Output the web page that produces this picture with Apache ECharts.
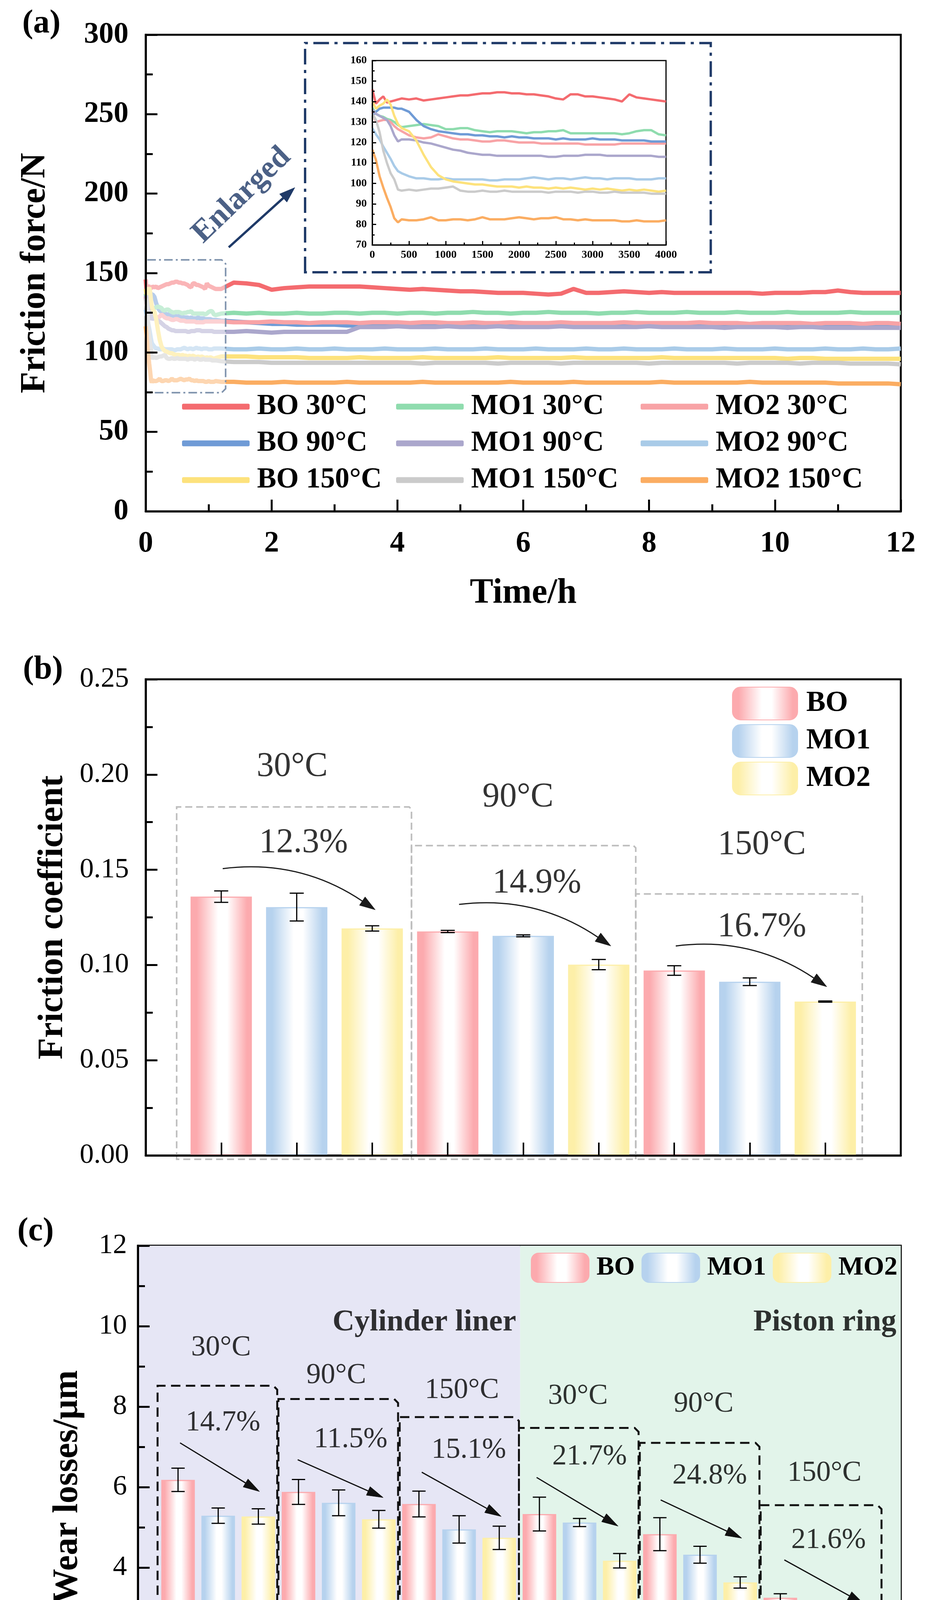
<!DOCTYPE html>
<html>
<head>
<meta charset="utf-8">
<script src="https://cdn.jsdelivr.net/npm/echarts@6/dist/echarts.min.js"></script>
<style>
html, body { margin: 0; padding: 0; background: #fff; }
#chart { width: 2368px; height: 4490px; }
</style>
</head>
<body>
<div id="chart"></div>
<script>
var FONT = 'Liberation Serif';
var NAVY = '#1f3a68';

// ---------- (a) friction force ----------
var lineNames = ['BO 30°C', 'MO1 30°C', 'MO2 30°C', 'BO 90°C', 'MO1 90°C', 'MO2 90°C', 'BO 150°C', 'MO1 150°C', 'MO2 150°C'];
var lineColors = ['#f46b6f', '#8fdcae', '#f8a3a6', '#6f9bd6', '#aba7cc', '#a9cbe8', '#fde27c', '#cbcbcb', '#fbad62'];

// inset: time in s
var insetTime = [0, 50, 100, 150, 200, 250, 300, 350, 400,
  500, 600, 700, 800, 900, 1000, 1100, 1200, 1300, 1400,
  1500, 1600, 1700, 1800, 1900, 2000, 2100, 2200, 2300, 2400,
  2500, 2600, 2700, 2800, 2900, 3000, 3100, 3200, 3300, 3400,
  3500, 3600, 3700, 3800, 3900, 4000];
var insetBO30 = [146, 139, 141, 142.5, 139.5, 140, 140.5, 141, 141.5,
  141, 141.5, 140.5, 141, 141.5, 142, 142.5, 143, 143, 143.5,
  144, 144, 144.5, 144.5, 144, 144, 143.5, 143.5, 143, 142.5,
  141.5, 141, 143.5, 143.5, 142.5, 142.5, 142, 141.5, 141, 140,
  143.5, 142, 141.5, 141, 140.5, 140];
var insetMO130 = [137, 134, 133, 132.5, 131.5, 131, 130, 128.5, 127.5,
  128, 128.5, 129, 128.5, 128, 126.5, 126.5, 127, 127, 126,
  125.5, 125, 125.5, 125.5, 125.5, 125, 124.5, 125, 125, 125.5,
  125.5, 126, 124.5, 124.5, 124.5, 124.5, 124.5, 124.5, 124.5, 124,
  124.5, 125.5, 126, 126, 124, 123.5];
var insetMO230 = [135, 130, 130.5, 131, 131, 130, 128, 126.5, 125.5,
  123.5, 122.5, 122, 122.5, 124, 123, 122, 121.5, 121.5, 121,
  120.5, 120.5, 121, 121, 120.5, 120, 120, 120, 119.5, 119.5,
  119.5, 119.5, 119.5, 119.5, 119, 119, 119, 119, 119, 119.5,
  119.5, 119.5, 119.5, 119.5, 119.5, 119.5];
var insetBO90 = [133, 135, 136.5, 137, 137, 137, 137, 136.5, 136.5,
  135, 131, 128, 126.5, 125.5, 125, 124.5, 124, 124, 123.5,
  123.5, 123, 123, 122.5, 123, 122.5, 122.5, 122, 122, 122,
  121.5, 122, 121.5, 121.5, 121.5, 122, 121.5, 121.5, 121.5, 121,
  121, 121, 121, 120.5, 120.5, 120.5];
var insetMO190 = [136, 134, 133, 132, 131, 128, 123.5, 120.5, 121.5,
  121.5, 121, 120, 119.5, 118.5, 117.5, 116.5, 116, 115, 114.5,
  114, 114, 113.5, 113.5, 113.5, 113.5, 113.5, 113.5, 113.5, 113,
  113, 113.5, 113.5, 113.5, 114, 114, 114, 113.5, 113.5, 113.5,
  113.5, 113.5, 113.5, 113.5, 113, 113];
var insetMO290 = [127, 124, 121.5, 118, 115, 112, 108.5, 106, 105,
  103.5, 102.5, 102.5, 102, 102, 102.5, 102, 102, 102, 102,
  102, 101.5, 101.5, 102, 102, 102, 102.5, 103, 102.5, 102,
  102.5, 102.5, 102, 102.5, 103, 102.5, 102.5, 102, 102.5, 102.5,
  102.5, 102, 102, 102, 102.5, 102.5];
var insetBO150 = [140, 136.5, 138, 139, 141, 138.5, 133, 129, 127,
  125.5, 121, 114, 108, 104, 102, 101, 100.5, 100, 99.5,
  99.5, 99, 98.5, 98.5, 98.5, 98, 98.5, 98, 98, 97.5,
  98, 97.5, 98, 97.5, 97, 97.5, 97, 97.5, 97, 96.5,
  97, 96.5, 97, 96.5, 96, 96.5];
var insetMO1150 = [134, 131, 125, 116, 110, 105, 102, 97, 96.5,
  97, 96.5, 97, 97.5, 97.5, 98, 98.5, 96.5, 96, 96,
  96.5, 96, 96, 96.5, 96, 96, 96, 96, 96, 95.5,
  96, 96, 96, 95.5, 96, 96, 95.5, 95.5, 96, 95.5,
  95.5, 95.5, 95.5, 95, 95, 95];
var insetMO2150 = [116.5, 111.5, 103.5, 98, 93, 88.5, 83, 81, 82.5,
  82, 82, 82.5, 83.5, 82, 82, 82.5, 82.5, 82, 82.5,
  83.5, 82.5, 82.5, 82.5, 83, 83.5, 83, 82.5, 83, 83,
  83.5, 82.5, 82.5, 82, 82.5, 82, 82, 82, 82, 81.5,
  81.5, 82, 81.5, 81.5, 81.5, 82];

// main plot after the inset window: time in h
var longTime = [1.2, 1.4, 1.6, 1.8, 2, 2.2, 2.4, 2.6, 2.8, 3,
  3.2, 3.4, 3.6, 3.8, 4, 4.2, 4.4, 4.6, 4.8, 5,
  5.2, 5.4, 5.6, 5.8, 6, 6.2, 6.4, 6.6, 6.8, 7,
  7.2, 7.4, 7.6, 7.8, 8, 8.2, 8.4, 8.6, 8.8, 9,
  9.2, 9.4, 9.6, 9.8, 10, 10.2, 10.4, 10.6, 10.8, 11,
  11.2, 11.4, 11.6, 11.8, 12];
var longBO30 = [140, 144, 143.5, 142.5, 139.5, 140.5, 141, 141.5, 141.5, 141.5,
  141.5, 141.5, 141, 140.5, 140, 139.5, 140, 139.5, 139, 138.5,
  138.5, 138, 137.5, 137.5, 137.5, 137, 136.5, 137, 140, 137.5,
  137.5, 138, 138.5, 138, 137.5, 138, 137.5, 137.5, 137.5, 137.5,
  137.5, 137.5, 137.5, 137, 137.5, 137.5, 137.5, 138, 138, 139,
  138, 137.5, 137.5, 137.5, 137.5];
var longMO130 = [124.5, 125, 124.5, 125, 124.5, 124.5, 125, 124.5, 124.5, 125,
  125, 124.5, 125, 125, 124.5, 125, 125, 124.5, 125, 125,
  125.5, 125, 125, 124.5, 125, 125, 125.5, 125, 125, 125,
  124.5, 125, 125, 125.5, 125, 125, 125, 125.5, 125, 125,
  125, 125.5, 125, 125, 125, 125.5, 125, 125, 125, 125,
  125.5, 125, 125, 125, 125];
var longMO230 = [119.5, 119, 119, 119, 119.5, 119, 119, 118.5, 119, 119,
  119, 118.5, 119, 119, 119, 118.5, 119, 119, 118.5, 118.5,
  119, 118.5, 118.5, 119, 118.5, 118.5, 118.5, 119, 118.5, 118.5,
  118.5, 118.5, 119, 118.5, 118.5, 118.5, 118.5, 118.5, 119, 118.5,
  118.5, 118.5, 118, 118.5, 118.5, 118.5, 118.5, 118, 118.5, 118.5,
  118.5, 118, 118.5, 118.5, 118];
var longBO90 = [120, 119.5, 119, 118.5, 118, 118, 117.5, 117.5, 117.5, 117.5,
  117, 117, 117, 117, 117, 117, 117, 117, 117, 117,
  117, 117, 117, 116.5, 117, 117, 117, 117, 117, 116.5,
  117, 117, 117, 117, 116.5, 117, 117, 117, 117, 117,
  116.5, 117, 117, 117, 117, 116.5, 117, 117, 117, 117,
  116.5, 117, 117, 116.5, 116.5];
var longMO190 = [113, 113, 113.5, 113, 112.5, 113, 113, 113, 113, 113,
  113, 116, 116, 116, 116.5, 116, 116, 116, 116.5, 116,
  116, 116, 116.5, 116, 116, 116, 116, 116.5, 116, 116,
  116, 116, 116, 116, 116.5, 116, 116, 116, 116, 116,
  115.5, 116, 116, 116, 116, 115.5, 116, 116, 115.5, 115.5,
  115.5, 115.5, 115.5, 115.5, 115.5];
var longMO290 = [102.5, 102, 102, 102.5, 102, 102, 102.5, 102, 102, 102.5,
  102, 102, 102, 102.5, 102, 102, 102, 102.5, 102, 102,
  102, 102.5, 102, 102, 102, 102.5, 102, 102, 102, 102.5,
  102, 102, 102.5, 102, 102, 102, 102.5, 102, 102, 102,
  102.5, 102, 102, 102, 102.5, 102, 102, 102, 102.5, 102,
  102, 102.5, 102, 102, 102.5];
var longBO150 = [97.5, 97.5, 97.5, 97, 97, 97, 97, 96.5, 96.5, 96.5,
  96.5, 97, 96.5, 96.5, 96.5, 96.5, 97, 96.5, 96.5, 96.5,
  96.5, 96.5, 97, 96.5, 96.5, 96.5, 96.5, 96.5, 97, 96.5,
  96.5, 96.5, 96.5, 96.5, 96.5, 97, 96.5, 96.5, 96.5, 96.5,
  96.5, 96.5, 96.5, 96.5, 96.5, 96, 96.5, 96.5, 96, 96,
  96, 96, 96, 96, 96];
var longMO1150 = [94.5, 94, 94, 94, 93.5, 93.5, 93.5, 93.5, 93.5, 93.5,
  93.5, 93.5, 93.5, 93.5, 93.5, 93.5, 93, 93.5, 93.5, 93.5,
  93.5, 93.5, 93, 93.5, 93.5, 93.5, 93.5, 93, 93.5, 93.5,
  93.5, 93.5, 93.5, 93.5, 93, 93.5, 93.5, 93.5, 93.5, 93.5,
  93.5, 93, 93.5, 93.5, 93.5, 93.5, 93, 93.5, 93.5, 93.5,
  93, 93, 93, 93, 92.5];
var longMO2150 = [81.5, 81.5, 81, 81, 81, 81.5, 81, 81, 81, 81,
  81.5, 81, 81, 81, 81, 81, 81.5, 81, 81, 81,
  81, 81, 81, 81.5, 81, 81, 81, 81, 81.5, 81,
  81, 81, 81, 81, 81, 81.5, 81, 81, 81, 81,
  81, 81, 81.5, 81, 81, 81, 81, 81, 81, 80.5,
  80.5, 80.5, 80.5, 80.5, 80];

var insetValues = [insetBO30, insetMO130, insetMO230, insetBO90, insetMO190, insetMO290, insetBO150, insetMO1150, insetMO2150];
var longValues = [longBO30, longMO130, longMO230, longBO90, longMO190, longMO290, longBO150, longMO1150, longMO2150];

// enlarged window [x1, x2, top, bottom] and inset frame, in (a) data units
var zoomBox = [0, 1.27, 158.3, 74.7];
var insetFrame = [2.533, 8.98, 294.8, 150.5];
var enlargedFrom = [[1.32, 166.2]], enlargedTo = [[2.37, 203.8]], enlargedAt = [1.527, 198.9];

// ---------- (b) friction coefficient ----------
var coefPosBO = [1, 4, 7], coefPosMO1 = [2, 5, 8], coefPosMO2 = [3, 6, 9];
var coefBO = [0.1359, 0.1176, 0.0971];
var coefMO1 = [0.1304, 0.1153, 0.0912];
var coefMO2 = [0.1192, 0.1002, 0.0808];
var coefErrBO = [0.003, 0.0006, 0.0025];
var coefErrMO1 = [0.0073, 0.0005, 0.002];
var coefErrMO2 = [0.0014, 0.0027, 0.0003];
var coefBoxLeft = [0.41, 3.52, 6.49], coefBoxRight = [3.52, 6.49, 9.49], coefBoxTop = [0.183, 0.1627, 0.1373];
var coefTempText = ['30°C', '90°C', '150°C'], coefTempX = [1.94, 4.93, 8.16], coefTempY = [0.204, 0.188, 0.163];
var coefPctText = ['12.3%', '14.9%', '16.7%'], coefPctX = [2.09, 5.18, 8.16], coefPctY = [0.164, 0.143, 0.120];
var coefArrowFrom = [[1.02, 0.1506], [4.15, 0.1318], [7.02, 0.110]];
var coefArrowTo = [[3.04, 0.129], [6.16, 0.110], [9.02, 0.0886]];

// ---------- (c) wear losses ----------
var wearPosBO = [1, 4, 7, 10, 13, 16], wearPosMO1 = [2, 5, 8, 11, 14, 17], wearPosMO2 = [3, 6, 9, 12, 15, 18];
var wearBO = [6.18, 5.88, 5.58, 5.33, 4.83, 3.25];
var wearMO1 = [5.29, 5.61, 4.95, 5.12, 4.32, 2.92];
var wearMO2 = [5.27, 5.20, 4.74, 4.17, 3.63, 2.55];
var wearErrBO = [0.29, 0.31, 0.32, 0.42, 0.41, 0.10];
var wearErrMO1 = [0.19, 0.32, 0.34, 0.10, 0.21, 0.02];
var wearErrMO2 = [0.19, 0.22, 0.29, 0.18, 0.14, 0.13];
var wearBoxLeft = [0.49, 3.50, 6.52, 9.49, 12.50, 15.51];
var wearBoxRight = [3.47, 6.48, 9.49, 12.47, 15.48, 18.52];
var wearBoxTop = [8.52, 8.19, 7.74, 7.47, 7.10, 5.55];
var wearTempText = ['30°C', '90°C', '150°C', '30°C', '90°C', '150°C'];
var wearTempX = [2.07, 4.94, 8.07, 10.96, 14.09, 17.10];
var wearTempY = [9.46, 8.77, 8.40, 8.26, 8.06, 6.34];
var wearPctText = ['14.7%', '11.5%', '15.1%', '21.7%', '24.8%', '21.6%'];
var wearPctX = [2.12, 5.30, 8.24, 11.25, 14.24, 17.20];
var wearPctY = [7.60, 7.18, 6.92, 6.75, 6.28, 4.67];
var wearArrowFrom = [[1.05, 7.10], [3.98, 6.68], [7.07, 6.37], [9.93, 6.24], [13.02, 5.68], [16.10, 4.19]];
var wearArrowTo = [[3.03, 5.89], [6.11, 5.74], [9.05, 5.27], [11.96, 5.03], [15.04, 4.73], [18.08, 3.10]];
var partSplit = 9.52;
var partText = ['Cylinder liner', 'Piston ring'], partX = [9.42, 18.89], partY = [10.09, 10.09];

var barEdge = {BO: '#fcaaae', MO1: '#b6d2ee', MO2: '#fdefa8'};

function barGrad(edge) {
  return new echarts.graphic.LinearGradient(0, 0, 1, 0, [
    {offset: 0, color: edge}, {offset: 0.1, color: edge},
    {offset: 0.45, color: '#fff'}, {offset: 0.6, color: '#fff'},
    {offset: 0.92, color: edge}, {offset: 1, color: edge}
  ]);
}

function errorRender(capW) {
  return function (params, api) {
    var x = api.value(0), m = api.value(1), e = api.value(2);
    var hi = api.coord([x, m + e]), lo = api.coord([x, m - e]);
    var st = {stroke: '#000', lineWidth: 3};
    return {type: 'group', children: [
      {type: 'line', shape: {x1: hi[0], y1: hi[1], x2: lo[0], y2: lo[1]}, style: st},
      {type: 'line', shape: {x1: hi[0] - capW / 2, y1: hi[1], x2: hi[0] + capW / 2, y2: hi[1]}, style: st},
      {type: 'line', shape: {x1: lo[0] - capW / 2, y1: lo[1], x2: lo[0] + capW / 2, y2: lo[1]}, style: st}
    ]};
  };
}

function boxRender(o) {
  return function (params, api) {
    var x1 = api.value(0), x2 = api.value(1), top = api.value(2), bot = api.value(3);
    var a = api.coord([x1, bot]), b = api.coord([x1, top]), c = api.coord([x2, top]), d = api.coord([x2, bot]);
    var pts = [a, b, [c[0] - o.cut, c[1]], [c[0], c[1] + o.cut]];
    if (o.cutBottom) pts.push([d[0], d[1] - o.cut], [d[0] - o.cut, d[1]]);
    else pts.push(d);
    return {type: 'polygon', shape: {points: pts},
      style: {fill: o.fill || 'rgba(0,0,0,0)', stroke: o.stroke, lineWidth: o.width, lineDash: o.dash}};
  };
}

// arrow from (x1,y1) to (x2,y2), optionally bowed upward, with a filled head
function arrowRender(o) {
  return function (params, api) {
    var p1 = api.coord([api.value(0), api.value(1)]);
    var p2 = api.coord([api.value(2), api.value(3)]);
    var dx = p2[0] - p1[0], dy = p2[1] - p1[1];
    var cp = [(p1[0] + p2[0]) / 2 + dy * o.curve, (p1[1] + p2[1]) / 2 - dx * o.curve];
    var tx = p2[0] - cp[0], ty = p2[1] - cp[1], tl = Math.sqrt(tx * tx + ty * ty);
    tx /= tl; ty /= tl;
    var base = [p2[0] - tx * o.head, p2[1] - ty * o.head], w = o.headW / 2;
    var cpb = [cp[0] + (base[0] - p2[0]) * 0.5, cp[1] + (base[1] - p2[1]) * 0.5];
    return {type: 'group', children: [
      {type: 'bezierCurve', shape: {x1: p1[0], y1: p1[1], x2: base[0], y2: base[1], cpx1: cpb[0], cpy1: cpb[1]},
        style: {stroke: o.color, lineWidth: o.width, fill: null}},
      {type: 'polygon', shape: {points: [[p2[0], p2[1]], [base[0] - ty * w, base[1] + tx * w], [base[0] + ty * w, base[1] - tx * w]]},
        style: {fill: o.color, stroke: o.color, lineWidth: 1}}
    ]};
  };
}

function zip3(a, b, c) { return a.map(function (v, i) { return [v, b[i], c[i]]; }); }
function boxRows(l, r, t, bottom) { return l.map(function (v, i) { return [v, r[i], t[i], bottom]; }); }
function textRows(txt, xs, ys) { return txt.map(function (t, i) { return {name: t, value: [xs[i], ys[i]]}; }); }
function arrowRows(from, to) { return from.map(function (f, i) { return [f[0], f[1], to[i][0], to[i][1]]; }); }

var blk = '#000';
function valueAxis(grid, min, max, interval, extra) {
  var ax = {
    gridIndex: grid, type: 'value', min: min, max: max, interval: interval, z: 10,
    axisLine: {onZero: false, lineStyle: {color: blk, width: 5}},
    axisTick: {inside: true, length: 30, lineStyle: {color: blk, width: 5}},
    minorTick: {show: false},
    splitLine: {show: false}, minorSplitLine: {show: false},
    axisLabel: {show: true, showMinLabel: true, showMaxLabel: true, color: blk, fontFamily: FONT}
  };
  for (var k in extra) {
    var v = extra[k];
    if (v && typeof v === 'object' && !Array.isArray(v)) ax[k] = Object.assign({}, ax[k] || {}, v);
    else ax[k] = v;
  }
  return ax;
}
function nameStyle(size) { return {fontFamily: FONT, fontWeight: 'bold', fontSize: size, color: blk}; }
function plainNum(v) { return String(v); }

var series = [];

// (a) main lines
lineNames.forEach(function (name, i) {
  var d = insetTime.map(function (t, j) { return [t / 3600, insetValues[i][j]]; })
    .concat(longTime.map(function (h, j) { return [h, longValues[i][j]]; }));
  series.push({type: 'line', name: name, xAxisIndex: 0, yAxisIndex: 0, data: d, showSymbol: false,
    color: lineColors[i], itemStyle: {color: lineColors[i]}, z: name === 'BO 90°C' ? 1 : 2,
    lineStyle: {color: lineColors[i], width: 11}, silent: true});
});
// (a) inset lines
lineNames.forEach(function (name, i) {
  series.push({type: 'line', name: name, xAxisIndex: 1, yAxisIndex: 1,
    data: insetTime.map(function (t, j) { return [t, insetValues[i][j]]; }),
    showSymbol: false, color: lineColors[i], lineStyle: {color: lineColors[i], width: 6}, silent: true});
});
// (a) faded window + inset frame
series.push({type: 'custom', xAxisIndex: 0, yAxisIndex: 0, z: 5, silent: true,
  renderItem: boxRender({cut: 10, cutBottom: true, fill: 'rgba(255,255,255,0.5)', stroke: '#7f93ad', width: 4, dash: [22, 8, 5, 8]}),
  encode: {x: [0, 1], y: [2, 3]}, data: [zoomBox]});
series.push({type: 'custom', xAxisIndex: 0, yAxisIndex: 0, z: 5, silent: true,
  renderItem: boxRender({cut: 0, stroke: NAVY, width: 6, dash: [40, 14, 8, 14]}),
  encode: {x: [0, 1], y: [2, 3]}, data: [insetFrame]});
series.push({type: 'custom', xAxisIndex: 0, yAxisIndex: 0, z: 6, silent: true,
  renderItem: arrowRender({curve: 0, color: NAVY, width: 6, head: 40, headW: 28}),
  encode: {x: [0, 2], y: [1, 3]}, data: arrowRows(enlargedFrom, enlargedTo)});
series.push({type: 'scatter', xAxisIndex: 0, yAxisIndex: 0, z: 6, silent: true, symbolSize: 0,
  data: [{name: 'Enlarged', value: enlargedAt}],
  label: {show: true, position: 'inside', formatter: '{b}', rotate: 44, fontFamily: FONT, fontWeight: 'bold', fontSize: 80, color: NAVY}});

// (b) bars
[['BO', coefPosBO, coefBO, coefErrBO], ['MO1', coefPosMO1, coefMO1, coefErrMO1], ['MO2', coefPosMO2, coefMO2, coefErrMO2]].forEach(function (s) {
  series.push({type: 'bar', name: s[0], xAxisIndex: 2, yAxisIndex: 2, barWidth: 157, barGap: '-100%', z: 2, silent: true,
    itemStyle: {color: barGrad(barEdge[s[0]]), borderColor: barEdge[s[0]], borderWidth: 3},
    data: s[1].map(function (x, i) { return [x, s[2][i]]; })});
  series.push({type: 'custom', xAxisIndex: 2, yAxisIndex: 2, z: 4, silent: true, renderItem: errorRender(36),
    encode: {x: 0, y: 1}, data: zip3(s[1], s[2], s[3])});
});
series.push({type: 'custom', xAxisIndex: 2, yAxisIndex: 2, z: 3, silent: true,
  renderItem: boxRender({cut: 6, stroke: '#bdbdbd', width: 4, dash: [18, 10]}),
  encode: {x: [0, 1], y: [2, 3]}, data: boxRows(coefBoxLeft, coefBoxRight, coefBoxTop, -0.002)});
series.push({type: 'custom', xAxisIndex: 2, yAxisIndex: 2, z: 6, silent: true,
  renderItem: arrowRender({curve: 0.17, color: '#1a1a1a', width: 3, head: 40, headW: 26}),
  encode: {x: [0, 2], y: [1, 3]}, data: arrowRows(coefArrowFrom, coefArrowTo)});
series.push({type: 'scatter', xAxisIndex: 2, yAxisIndex: 2, z: 6, silent: true, symbolSize: 0,
  data: textRows(coefTempText, coefTempX, coefTempY).concat(textRows(coefPctText, coefPctX, coefPctY)),
  label: {show: true, position: 'inside', formatter: '{b}', fontFamily: FONT, fontSize: 88, color: blk}});

// (c) background
series.push({type: 'scatter', xAxisIndex: 3, yAxisIndex: 3, z: 1, silent: true, symbolSize: 0, data: [],
  markArea: {silent: true, data: [
    [{coord: [0, 0], itemStyle: {color: '#e6e6f5'}}, {coord: [partSplit, 12]}],
    [{coord: [partSplit, 0], itemStyle: {color: '#e2f4ea'}}, {coord: [19, 12]}]
  ]}});
[['BO', wearPosBO, wearBO, wearErrBO], ['MO1', wearPosMO1, wearMO1, wearErrMO1], ['MO2', wearPosMO2, wearMO2, wearErrMO2]].forEach(function (s) {
  series.push({type: 'bar', name: s[0], xAxisIndex: 3, yAxisIndex: 3, barWidth: 86, barGap: '-100%', z: 2, silent: true,
    itemStyle: {color: barGrad(barEdge[s[0]]), borderColor: barEdge[s[0]], borderWidth: 3},
    data: s[1].map(function (x, i) { return [x, s[2][i]]; })});
  series.push({type: 'custom', xAxisIndex: 3, yAxisIndex: 3, z: 4, silent: true, renderItem: errorRender(34),
    encode: {x: 0, y: 1}, data: zip3(s[1], s[2], s[3])});
});
series.push({type: 'custom', xAxisIndex: 3, yAxisIndex: 3, z: 3, silent: true,
  renderItem: boxRender({cut: 10, stroke: '#111', width: 5, dash: [24, 14]}),
  encode: {x: [0, 1], y: [2, 3]}, data: boxRows(wearBoxLeft, wearBoxRight, wearBoxTop, 0)});
series.push({type: 'custom', xAxisIndex: 3, yAxisIndex: 3, z: 6, silent: true,
  renderItem: arrowRender({curve: 0, color: '#111', width: 3, head: 42, headW: 24}),
  encode: {x: [0, 2], y: [1, 3]}, data: arrowRows(wearArrowFrom, wearArrowTo)});
series.push({type: 'scatter', xAxisIndex: 3, yAxisIndex: 3, z: 6, silent: true, symbolSize: 0,
  data: textRows(wearTempText, wearTempX, wearTempY).concat(textRows(wearPctText, wearPctX, wearPctY)),
  label: {show: true, position: 'inside', formatter: '{b}', fontFamily: FONT, fontSize: 74, color: blk}});
series.push({type: 'scatter', xAxisIndex: 3, yAxisIndex: 3, z: 6, silent: true, symbolSize: 0,
  data: textRows(partText, partX, partY),
  label: {show: true, position: 'inside', align: 'right', formatter: '{b}', fontFamily: FONT, fontWeight: 'bold', fontSize: 78, color: blk}});

var legendText = {fontFamily: FONT, fontWeight: 'bold', color: blk};
function lineLegend(names, left) {
  return {data: names, left: left, top: 996, orient: 'vertical', selectedMode: false,
    icon: 'roundRect', itemWidth: 173, itemHeight: 15, itemGap: 14,
    textStyle: Object.assign({fontSize: 74, lineHeight: 80, padding: [0, 0, 0, 14]}, legendText)};
}

var option = {
  backgroundColor: '#fff',
  animation: false,
  grid: [
    {left: 373, top: 89, width: 1933, height: 1220, show: true, borderColor: blk, borderWidth: 5, outerBoundsMode: 'none'},
    {left: 953, top: 155, width: 752, height: 472, show: true, borderColor: blk, borderWidth: 3, backgroundColor: '#fff', outerBoundsMode: 'none'},
    {left: 373, top: 1739, width: 1933, height: 1219, show: true, borderColor: blk, borderWidth: 5, outerBoundsMode: 'none'},
    {left: 353, top: 3189, width: 1953, height: 1236, show: true, borderColor: blk, borderWidth: 5, outerBoundsMode: 'none'}
  ],
  legend: [
    lineLegend(['BO 30°C', 'BO 90°C', 'BO 150°C'], 461),
    lineLegend(['MO1 30°C', 'MO1 90°C', 'MO1 150°C'], 1009),
    lineLegend(['MO2 30°C', 'MO2 90°C', 'MO2 150°C'], 1635),
    {data: ['BO', 'MO1', 'MO2'], left: 1869, top: 1753, orient: 'vertical', selectedMode: false,
      itemWidth: 167, itemHeight: 84, itemGap: 10,
      textStyle: Object.assign({fontSize: 74, lineHeight: 84, padding: [0, 0, 0, 17]}, legendText)},
    {data: ['BO', 'MO1', 'MO2'], left: 1354, top: 3202, orient: 'horizontal', selectedMode: false,
      itemWidth: 148, itemHeight: 75, itemGap: 17,
      textStyle: Object.assign({fontSize: 68, lineHeight: 75, padding: [0, 0, 0, 14]}, legendText)}
  ],
  xAxis: [
    valueAxis(0, 0, 12, 2, {
      minorTick: {show: true, splitNumber: 2, length: 18, lineStyle: {color: blk, width: 5}},
      axisLabel: {margin: 45, fontWeight: 'bold', fontSize: 76},
      name: 'Time/h', nameLocation: 'middle', nameGap: 166, nameTextStyle: nameStyle(90)}),
    valueAxis(1, 0, 4000, 500, {
      axisLine: {lineStyle: {color: blk, width: 3}},
      axisTick: {length: 10, lineStyle: {color: blk, width: 3}},
      minorTick: {show: true, splitNumber: 2, length: 6, lineStyle: {color: blk, width: 3}},
      axisLabel: {margin: 12, fontWeight: 'bold', fontSize: 28, formatter: plainNum}}),
    valueAxis(2, 0, 10, 1, {axisTick: {length: 33, lineStyle: {color: blk, width: 4}}, axisLabel: {show: false}}),
    valueAxis(3, 0, 19, 1, {axisTick: {length: 35, lineStyle: {color: blk, width: 4}}, axisLabel: {show: false}})
  ],
  yAxis: [
    valueAxis(0, 0, 300, 50, {
      minorTick: {show: true, splitNumber: 2, length: 18, lineStyle: {color: blk, width: 5}},
      axisLabel: {margin: 44, fontWeight: 'bold', fontSize: 76},
      name: 'Friction force/N', nameLocation: 'middle', nameGap: 237, nameTextStyle: nameStyle(90)}),
    valueAxis(1, 70, 160, 10, {
      axisLine: {lineStyle: {color: blk, width: 3}},
      axisTick: {length: 10, lineStyle: {color: blk, width: 3}},
      minorTick: {show: true, splitNumber: 2, length: 6, lineStyle: {color: blk, width: 3}},
      axisLabel: {margin: 14, fontWeight: 'bold', fontSize: 28, formatter: plainNum}}),
    valueAxis(2, 0, 0.25, 0.05, {
      minorTick: {show: true, splitNumber: 2, length: 18, lineStyle: {color: blk, width: 5}},
      axisLabel: {margin: 43, fontSize: 72, formatter: function (v) { return v.toFixed(2); }},
      name: 'Friction coefficient', nameLocation: 'middle', nameGap: 192, nameTextStyle: nameStyle(90)}),
    valueAxis(3, 0, 12, 2, {
      minorTick: {show: true, splitNumber: 2, length: 18, lineStyle: {color: blk, width: 5}},
      axisLabel: {margin: 28, fontSize: 72},
      name: 'Wear losses/μm', nameLocation: 'middle', nameGap: 134, nameTextStyle: nameStyle(90)})
  ],
  graphic: [
    {type: 'text', x: 106, y: 61, style: {text: '(a)', fontFamily: FONT, fontWeight: 'bold', fontSize: 84, fill: blk, align: 'center', verticalAlign: 'middle'}},
    {type: 'text', x: 110, y: 1715, style: {text: '(b)', fontFamily: FONT, fontWeight: 'bold', fontSize: 84, fill: blk, align: 'center', verticalAlign: 'middle'}},
    {type: 'text', x: 91, y: 3153, style: {text: '(c)', fontFamily: FONT, fontWeight: 'bold', fontSize: 84, fill: blk, align: 'center', verticalAlign: 'middle'}}
  ],
  series: series
};

var chart = echarts.init(document.getElementById('chart'));
chart.setOption(option);
</script>
</body>
</html>
